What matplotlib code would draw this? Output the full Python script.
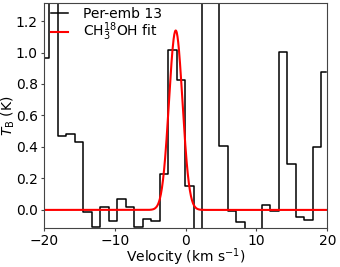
import numpy as np
import matplotlib.pyplot as plt

# spettro osservato (canali da 1.2 km/s)
chan_start = -19.85
chan_width = 1.2
tb_obs = [0.965, 1.60, 0.47, 0.485, 0.43, -0.013, -0.11, 0.017,
          -0.068, 0.068, 0.021, -0.11, -0.057, -0.07, 0.227, 1.016,
          0.825, 0.154, -0.14, 1.60, 1.60, 0.408, -0.004, -0.078,
          -0.14, -0.14, 0.032, -0.004, 1.001, 0.292, -0.046, -0.063,
          0.402, 0.874]

# parametri del fit gaussiano CH3-18-OH
fit_amp = 1.14
fit_v0 = -1.40
fit_sigma = 0.95

vel = chan_start + chan_width * np.arange(len(tb_obs))
v_fit = np.linspace(-20, 20, 801)
tb_fit = fit_amp * np.exp(-(v_fit - fit_v0) ** 2 / (2 * fit_sigma ** 2))

plt.rcParams['font.size'] = 10
fig = plt.figure(figsize=(3.4, 2.67), dpi=100)
ax = fig.add_axes([0.1294, 0.146, 0.8332, 0.843])

ax.step(vel, tb_obs, where='mid', color='k', linewidth=1.1, label='Per-emb 13')
ax.plot(v_fit, tb_fit, color='red', linewidth=1.5, label=r'CH$_3^{18}$OH fit')

ax.set_xlim(-20, 20)
ax.set_ylim(-0.115, 1.315)
ax.set_xticks([-20, -10, 0, 10, 20])
ax.set_yticks([0.0, 0.2, 0.4, 0.6, 0.8, 1.0, 1.2])
ax.tick_params(length=2.5, pad=2, width=0.8, color='#444444')
ax.set_xlabel(r'Velocity (km s$^{-1}$)', labelpad=-1)
ax.set_ylabel(r'$T_\mathrm{B}$ (K)', labelpad=-1)
for s in ax.spines.values():
    s.set_color('#444444')

ax.legend(loc='upper left', bbox_to_anchor=(-0.005, 1.02), frameon=False,
          handlelength=1.2, handletextpad=1.1, labelspacing=0.0,
          borderaxespad=0.2)

fig.savefig('out.png', dpi=100)
